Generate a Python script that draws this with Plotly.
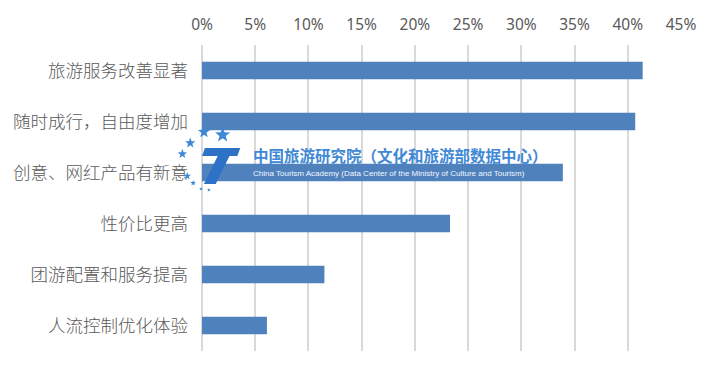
import math
import plotly.graph_objects as go

categories = ["旅游服务改善显著", "随时成行，自由度增加", "创意、网红产品有新意",
              "性价比更高", "团游配置和服务提高", "人流控制优化体验"]
values = [0.414, 0.407, 0.339, 0.233, 0.115, 0.061]
tick_vals = [0, 0.05, 0.10, 0.15, 0.20, 0.25, 0.30, 0.35, 0.40, 0.45]
tick_text = ["0%", "5%", "10%", "15%", "20%", "25%", "30%", "35%", "40%", "45%"]

W, H = 708, 366
L, R, T, B = 202, 18, 45, 15
PW, PH = W - L - R, H - T - B

def px(x):
    return (x - L) / PW

def py(y):
    return (H - B - y) / PH

fig = go.Figure(go.Bar(
    y=categories, x=values, orientation="h",
    marker=dict(color="#4F81BD", line=dict(width=0)),
    width=0.34, hoverinfo="skip",
))

fig.update_layout(
    width=W, height=H,
    margin=dict(l=L, r=R, t=T, b=B),
    plot_bgcolor="white", paper_bgcolor="white",
    showlegend=False,
    font=dict(family="Noto Sans CJK SC, sans-serif"),
    xaxis=dict(
        side="top", range=[0, 0.45], tickvals=tick_vals, ticktext=tick_text,
        showgrid=True, gridcolor="#D9D9D9", gridwidth=2,
        zeroline=True, zerolinecolor="#D9D9D9", zerolinewidth=2,
        showline=False, ticks="", ticklen=0, ticklabelstandoff=11,
        tickfont=dict(size=15.5, color="#595959", family="Noto Sans, sans-serif"),
        fixedrange=True,
    ),
    yaxis=dict(
        categoryorder="array", categoryarray=categories[::-1],
        showgrid=False, ticks="", showline=False,
        tickfont=dict(size=17.5, color="#595959", weight=300),
        ticklabelstandoff=13,
    ),
)

# ---- watermark (decoration) ----
wm_blue = "#3F88D6"

def star_path(cx, cy, r):
    pts = []
    for i in range(10):
        ang = -math.pi / 2 + i * math.pi / 5
        rr = r if i % 2 == 0 else r * 0.42
        pts.append((px(cx + rr * math.cos(ang)), py(cy + rr * math.sin(ang))))
    return "M " + " L ".join(f"{a:.5f},{b:.5f}" for a, b in pts) + " Z"

for cx, cy, r in [(204, 132, 6.5), (223, 135, 8), (190, 143, 5.5), (182, 154, 5), (187, 176, 4), (193, 183, 3), (201, 189, 2), (209, 190, 2)]:
    fig.add_shape(type="path", xref="paper", yref="paper", path=star_path(cx, cy, r),
                  fillcolor=wm_blue, line=dict(width=0), layer="above")

def poly(points):
    return "M " + " L ".join(f"{px(a):.5f},{py(b):.5f}" for a, b in points) + " Z"

# slanted "T"
fig.add_shape(type="path", xref="paper", yref="paper",
              path=poly([(205, 148), (241, 148), (238, 156), (202, 156)]),
              fillcolor="#2E72C8", line=dict(width=0), layer="above")
fig.add_shape(type="path", xref="paper", yref="paper",
              path=poly([(218, 156), (230, 156), (216, 184), (204, 184)]),
              fillcolor="#2E72C8", line=dict(width=0), layer="above")

fig.add_annotation(xref="paper", yref="paper", x=px(252), y=py(155), xanchor="left", yanchor="middle",
                   text="中国旅游研究院（文化和旅游部数据中心）", showarrow=False,
                   font=dict(size=15.5, color=wm_blue, family="Noto Sans CJK SC", weight="bold"))
fig.add_annotation(xref="paper", yref="paper", x=px(252), y=py(173), xanchor="left", yanchor="middle",
                   text="China Tourism Academy (Data Center of the Ministry of Culture and Tourism)",
                   showarrow=False, font=dict(size=8, color="#F2F7FF", family="Liberation Sans"))

fig.write_html("out.html")
